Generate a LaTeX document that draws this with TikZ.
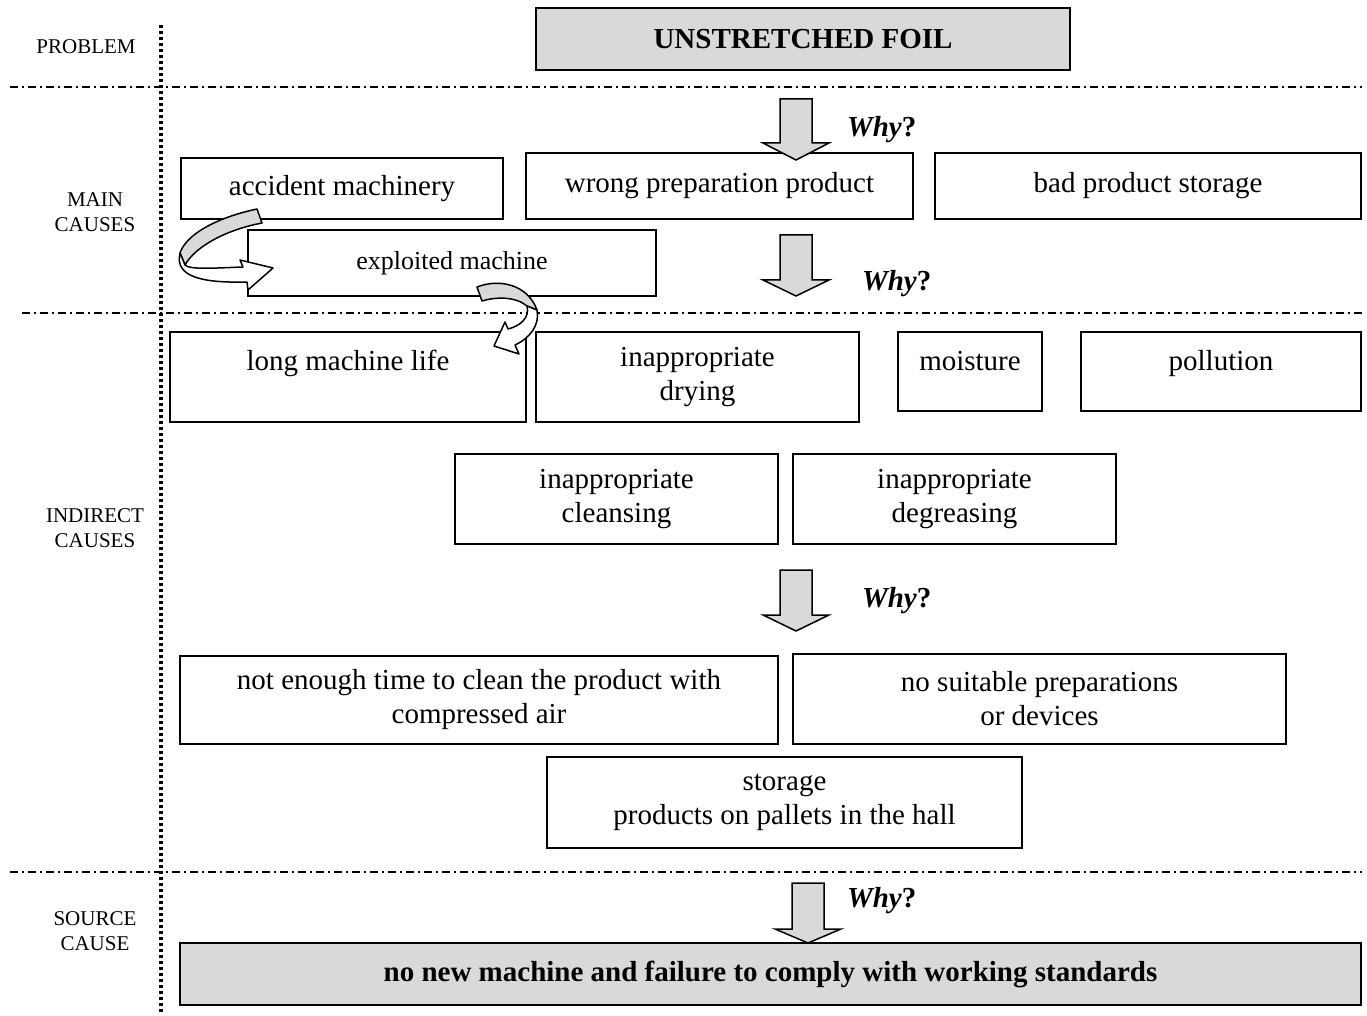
\documentclass[tikz,border=0pt]{standalone}
\usepackage{fontspec}
\setmainfont{Liberation Serif}

\begin{document}
\begin{tikzpicture}[
  x=0.5pt, y=-0.5pt,
  box/.style={draw, line width=0.75pt, inner sep=0pt, align=center,
    font=\fontsize{14.5}{17}\selectfont},
  keybox/.style={box, fill=shade, font=\fontsize{14.5}{17}\selectfont\bfseries},
  side/.style={align=center, font=\fontsize{10.5}{12.5}\selectfont},
  why/.style={anchor=west, font=\fontsize{14.5}{17}\selectfont\bfseries},
  divider/.style={line width=0.6pt, dash pattern=on 4pt off 2pt on 1pt off 2pt},
  blockarrow/.style={draw, fill=shade, line width=0.75pt, line join=miter},
  twist/.style={draw, line width=0.75pt, line join=round},
]

\definecolor{shade}{HTML}{D9D9D9}

\useasboundingbox (0,0) rectangle (1367,1016);

% level separators
\draw[divider] (10,87) -- (1362,87);
\draw[divider] (22,313) -- (1362,313);
\draw[divider] (10,872) -- (1362,872);
\draw[line width=1.6pt, dash pattern=on 1.5pt off 1.5pt] (161,25) -- (161,1012);

% level names
\node[side] (lprob) at (86,47) {PROBLEM};
\node[side] (lmain) at (95,212) {MAIN\\CAUSES};
\node[side] (lind)  at (95,528) {INDIRECT\\CAUSES};
\node[side] (lsrc)  at (95,931) {SOURCE\\CAUSE};

% problem
\node[keybox, minimum width=267pt, minimum height=31pt] (foil) at (803,39) {UNSTRETCHED FOIL};

% main causes
\node[box, minimum width=161pt, minimum height=30.5pt] (acc) at (342,188.5) {accident machinery};
\node[box, minimum width=193.5pt, minimum height=33pt] (wrong) at (719.5,186) {wrong preparation product};
\node[box, minimum width=213pt, minimum height=33pt] (bad) at (1148,186) {bad product storage};
\node[box, minimum width=204pt, minimum height=33pt, font=\fontsize{13}{16}\selectfont] (expl) at (452,263) {exploited machine};

% indirect causes
\node[box, minimum width=178pt, minimum height=45pt, text depth=17pt] (life) at (348,377) {long machine life};
\node[box, minimum width=161.5pt, minimum height=45pt] (dry) at (697.5,377) {inappropriate\\drying};
\node[box, minimum width=72pt, minimum height=39.5pt, text depth=10.5pt] (moist) at (970,371.5) {moisture};
\node[box, minimum width=140pt, minimum height=39.5pt, text depth=11pt] (poll) at (1221,371.5) {pollution};
\node[box, minimum width=161.5pt, minimum height=45pt] (clean) at (616.5,499) {inappropriate\\cleansing};
\node[box, minimum width=161.5pt, minimum height=45pt] (degr) at (954.5,499) {inappropriate\\degreasing};
\node[box, minimum width=299pt, minimum height=44pt] (time) at (479,700) {not enough time to clean the product with\\compressed air};
\node[box, minimum width=246.5pt, minimum height=45pt] (suit) at (1039.5,699) {no suitable preparations\\or devices};
\node[box, minimum width=237.5pt, minimum height=45.5pt] (stor) at (784.5,802.5) {storage\\products on pallets in the hall};

% source cause
\node[keybox, minimum width=590.5pt, minimum height=31pt] (root) at (770.5,974) {no new machine and failure to comply with working standards};

% why arrows: centre / shaft top / head base / tip / label x / label y
\foreach \cx/\ya/\yb/\yc/\wx/\wy [count=\i] in
  {796/99/143/160/840/130, 796/235/280/296/855/284,
   796/570/615/631/855/601, 808/883/929/943/840/901} {
  \draw[blockarrow] (\cx-16,\ya) -- (\cx+16,\ya) -- (\cx+16,\yb) -- (\cx+33,\yb)
    -- (\cx,\yc) -- (\cx-33,\yb) -- (\cx-16,\yb) -- cycle;
  \node[why] (why\i) at (\wx,\wy) {\textit{Why}?};
}

% turning arrows
\draw[twist, fill=shade] (257,209) -- (262,223)
  .. controls (225,230) and (195,247) .. (185,265)
  -- (180,253) .. controls (186,235) and (215,218) .. (257,209) -- cycle;
\draw[twist, fill=white] (180,253) .. controls (174,278) and (205,283) .. (247,282)
  -- (248,290) -- (273,268) -- (240,260) -- (243,267)
  .. controls (215,268) and (190,270) .. (185,265) -- cycle;

\draw[twist, fill=shade] (477,287) .. controls (500,278) and (528,285) .. (537,310)
  -- (527,306) .. controls (515,296) and (495,297) .. (482,301) -- cycle;
\draw[twist, fill=white] (527,306) .. controls (530,318) and (520,326) .. (508,329)
  -- (505,322) -- (494,346) -- (519,354) -- (515,345)
  .. controls (530,338) and (540,325) .. (537,310) -- cycle;

\end{tikzpicture}
\end{document}
